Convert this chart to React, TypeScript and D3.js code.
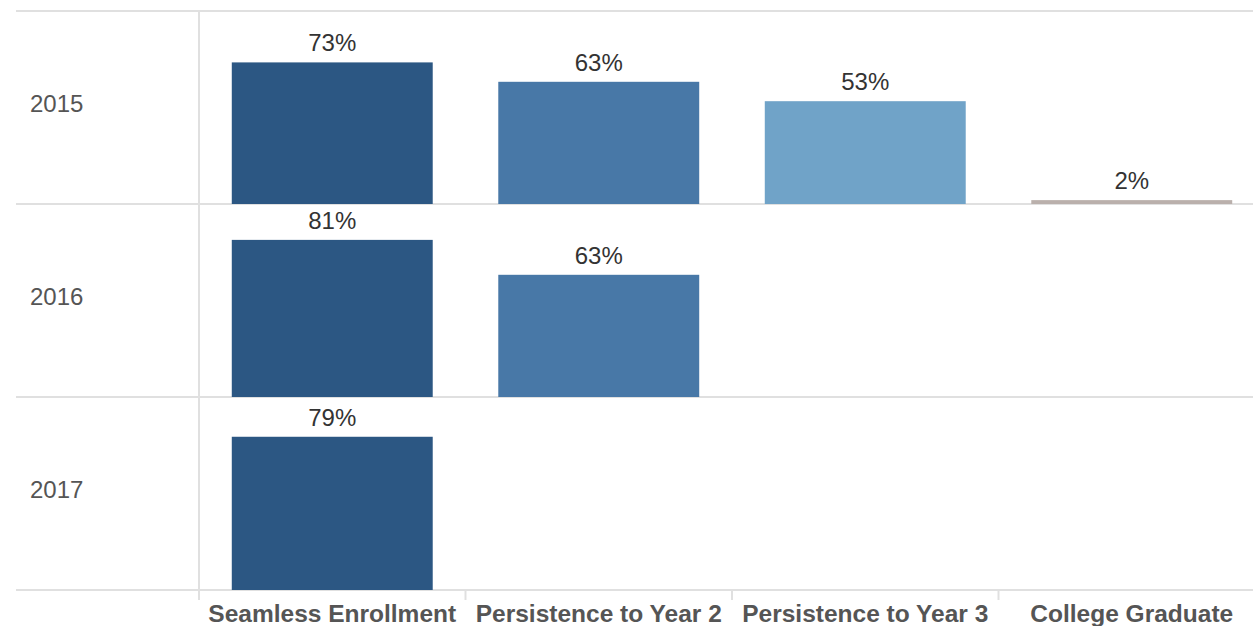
import { useEffect, useRef } from "react";
import * as d3 from "d3";

const categories = [
  "Seamless Enrollment",
  "Persistence to Year 2",
  "Persistence to Year 3",
  "College Graduate",
];
const years = ["2015", "2016", "2017"];
const values2015 = [0.73, 0.63, 0.53, 0.02];
const values2016 = [0.81, 0.63, null, null];
const values2017 = [0.79, null, null, null];
const barColors = ["#2c5783", "#4878a7", "#70a3c8", "#bab0ac"];

const valuesByYear: (number | null)[][] = [values2015, values2016, values2017];

export default function App() {
  const svgRef = useRef<SVGSVGElement | null>(null);
  const width = 1253;
  const height = 626;

  useEffect(() => {
    if (!svgRef.current) return;
    const svg = d3.select(svgRef.current);
    svg.selectAll("*").remove();

    const left = 199;
    const right = 1265; // last column runs past the picture edge
    const top = 11;
    const bottom = 590;
    const lineLeft = 16;
    const gridColor = "#e0e0e0";
    const font = "Arial, 'Liberation Sans', sans-serif";

    const x = d3
      .scaleBand<string>()
      .domain(categories)
      .range([left, right])
      .paddingInner(0.246)
      .paddingOuter(0.123);

    const row = d3.scaleBand<string>().domain(years).range([top, bottom]);
    const rowH = row.bandwidth();
    const y = d3.scaleLinear().domain([0, 0.995]).range([rowH, 0]);

    // horizontal row lines
    const rowEdges = [top, ...years.map((yr) => (row(yr) ?? 0) + rowH)];
    svg
      .selectAll("line.h")
      .data(rowEdges)
      .join("line")
      .attr("x1", lineLeft)
      .attr("x2", width)
      .attr("y1", (d) => d)
      .attr("y2", (d) => d)
      .attr("stroke", gridColor)
      .attr("stroke-width", 2);

    // vertical axis line
    svg
      .append("line")
      .attr("x1", left)
      .attr("x2", left)
      .attr("y1", top)
      .attr("y2", bottom + 10)
      .attr("stroke", gridColor)
      .attr("stroke-width", 2);

    // column ticks under the bottom line
    const step = x.step();
    const colEdges = d3.range(1, categories.length).map((i) => left + i * step);
    svg
      .selectAll("line.t")
      .data(colEdges)
      .join("line")
      .attr("x1", (d) => d)
      .attr("x2", (d) => d)
      .attr("y1", bottom)
      .attr("y2", bottom + 10)
      .attr("stroke", gridColor)
      .attr("stroke-width", 2);

    years.forEach((yr, yi) => {
      const g = svg.append("g").attr("transform", `translate(0, ${row(yr)})`);

      g.append("text")
        .attr("x", 30)
        .attr("y", rowH / 2 - 2)
        .attr("dominant-baseline", "middle")
        .style("font-family", font)
        .style("font-size", "24px")
        .style("fill", "#555")
        .text(yr);

      valuesByYear[yi].forEach((v, ci) => {
        if (v == null) return;
        const cat = categories[ci];
        const bx = x(cat) ?? 0;
        g.append("rect")
          .attr("x", bx)
          .attr("y", y(v))
          .attr("width", x.bandwidth())
          .attr("height", rowH - y(v))
          .attr("fill", barColors[ci]);

        g.append("text")
          .attr("x", bx + x.bandwidth() / 2)
          .attr("y", y(v) - 11)
          .attr("text-anchor", "middle")
          .style("font-family", font)
          .style("font-size", "24px")
          .style("fill", "#333")
          .text(`${Math.round(v * 100)}%`);
      });
    });

    // column labels
    svg
      .selectAll("text.cat")
      .data(categories)
      .join("text")
      .attr("x", (d) => (x(d) ?? 0) + x.bandwidth() / 2)
      .attr("y", 622)
      .attr("text-anchor", "middle")
      .style("font-family", font)
      .style("font-size", "24.5px")
      .style("font-weight", "bold")
      .style("fill", "#555")
      .text((d) => d);
  }, []);

  return (
    <svg
      ref={svgRef}
      width={width}
      height={height}
      style={{ position: "absolute", left: 0, top: 0, background: "#fff" }}
    />
  );
}
